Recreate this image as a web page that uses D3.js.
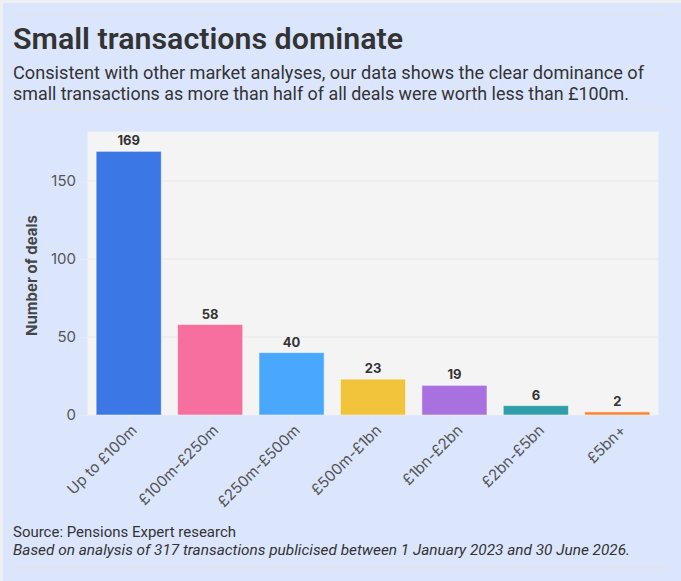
<!DOCTYPE html>
<html><head><meta charset="utf-8">
<script src="https://cdn.jsdelivr.net/npm/d3@7"></script>
<style>
html,body{margin:0;padding:0;background:#eef0f4;}
svg{display:block;}
</style></head>
<body>
<svg id="chart" width="681" height="581"></svg>
<script>
const categories = ["Up to £100m","£100m-£250m","£250m-£500m","£500m-£1bn","£1bn-£2bn","£2bn-£5bn","£5bn+"];
const deals = [169, 58, 40, 23, 19, 6, 2];
const barColors = ["#3b78e6","#f76f9f","#4aa8fc","#f2c43b","#a971df","#309ea8","#fd8536"];
const yTicks = [0, 50, 100, 150];
const title = "Small transactions dominate";
const subtitle = ["Consistent with other market analyses, our data shows the clear dominance of",
                  "small transactions as more than half of all deals were worth less than £100m."];
const source = "Source: Pensions Expert research";
const note = "Based on analysis of 317 transactions publicised between 1 January 2023 and 30 June 2026.";
const yTitle = "Number of deals";

const svg = d3.select("#chart");
svg.append("rect").attr("x",3).attr("y",3).attr("width",678).attr("height",578).attr("fill","#dbe6fd");

const headFont = "'Liberation Sans Narrow','Roboto','Liberation Sans',sans-serif";
const plotFont = "'Inter','Roboto',sans-serif";

function fitText(sel, w){
  sel.attr("textLength", w).attr("lengthAdjust","spacingAndGlyphs");
}

// rules
const ruleColor = "#e6e2dc";
[14.5, 109.5, 567.5].forEach(y=>{
  svg.append("line").attr("x1",13).attr("x2",668).attr("y1",y).attr("y2",y)
    .attr("stroke",ruleColor).attr("stroke-width",1);
});

svg.append("text").attr("x",13).attr("y",49).text(title)
  .attr("font-family",headFont).attr("font-weight",600).attr("font-size",29).attr("fill","#333")
  .call(fitText,390);
const subW = [631, 616];
subtitle.forEach((s,i)=>{
  svg.append("text").attr("x",13).attr("y",79+i*20.5).text(s)
    .attr("font-family",headFont).attr("font-size",18).attr("fill","#333")
    .call(fitText, subW[i]);
});
svg.append("text").attr("x",13).attr("y",537).text(source)
  .attr("font-family",headFont).attr("font-size",15).attr("fill","#333").call(fitText,223);
svg.append("text").attr("x",13).attr("y",555).text(note)
  .attr("font-family",headFont).attr("font-size",15).attr("font-style","italic").attr("fill","#333").call(fitText,617);

// plot
const m = {left:88, right:658, top:132, bottom:415};
const x = d3.scaleBand().domain(categories).range([m.left, m.right]).paddingInner(0.2).paddingOuter(0.1);
const y = d3.scaleLinear().domain([0, 181.4]).range([m.bottom, m.top]);

svg.append("rect").attr("x",m.left).attr("y",m.top).attr("width",m.right-m.left).attr("height",m.bottom-m.top)
  .attr("fill","#f4f4f4").attr("stroke","#eef3fd").attr("stroke-width",1);

// gridlines
svg.append("g").selectAll("line").data(yTicks.filter(d=>d>0)).join("line")
  .attr("x1",m.left).attr("x2",m.right).attr("y1",d=>y(d)).attr("y2",d=>y(d))
  .attr("stroke","#e8e8e8").attr("stroke-width",1);

// y axis
const yAxis = svg.append("g").attr("transform",`translate(${m.left},0)`)
  .call(d3.axisLeft(y).tickValues(yTicks).tickSize(8).tickPadding(4));
yAxis.select(".domain").remove();
yAxis.selectAll(".tick line").attr("stroke","#e4e9f4");
yAxis.selectAll(".tick text").attr("font-family",plotFont).attr("font-size",15).attr("fill","#555");

// bars
svg.append("g").selectAll("rect").data(categories).join("rect")
  .attr("x",d=>x(d)).attr("width",x.bandwidth())
  .attr("y",(d,i)=>y(deals[i])).attr("height",(d,i)=>y(0)-y(deals[i]))
  .attr("fill",(d,i)=>barColors[i]).attr("stroke","rgba(255,255,255,0.5)").attr("stroke-width",1);

// zero line
svg.append("line").attr("x1",80).attr("x2",m.right).attr("y1",y(0)+0.5).attr("y2",y(0)+0.5)
  .attr("stroke","#e4e9f4").attr("stroke-width",1);

// x axis
const xAxis = svg.append("g").attr("transform",`translate(0,${m.bottom})`)
  .call(d3.axisBottom(x).tickSize(6).tickPadding(6));
xAxis.select(".domain").remove();
xAxis.selectAll(".tick line").attr("stroke","#e4e9f4");
xAxis.selectAll(".tick text").attr("font-family",plotFont).attr("font-size",15.2).attr("fill","#555")
  .attr("text-anchor","end").attr("dy","0.35em")
  .attr("transform","translate(-3,4) rotate(-45)");

// value labels
svg.append("g").selectAll("text").data(categories).join("text")
  .attr("x",d=>x(d)+x.bandwidth()/2).attr("y",(d,i)=>y(deals[i])-6)
  .attr("text-anchor","middle").text((d,i)=>deals[i])
  .attr("font-family",plotFont).attr("font-weight","bold").attr("font-size",13).attr("fill","#333");

// y title
svg.append("text").attr("transform",`translate(37,${(m.top+m.bottom)/2+2}) rotate(-90)`)
  .attr("text-anchor","middle").text(yTitle)
  .attr("font-family",plotFont).attr("font-weight","bold").attr("font-size",15).attr("fill","#444");
</script>
</body></html>
